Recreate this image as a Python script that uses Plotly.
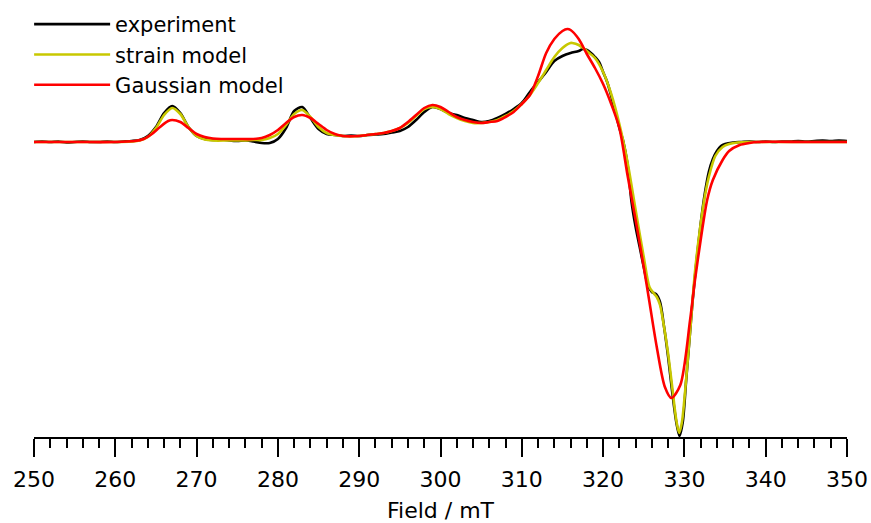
import plotly.graph_objects as go

# EPR spectrum: experiment vs. two simulation models (derivative intensity, arb. units)

exp_field = [250, 251, 252, 253, 254, 255, 256, 257, 258, 259, 260, 261, 262, 263, 264, 265, 266, 267,
             268, 269, 270, 271, 272, 273, 274, 275, 276, 277, 278, 279, 280, 281, 282, 283, 284, 285,
             286, 287, 288, 289, 290, 291, 292, 293, 294, 295, 296, 297, 298, 299, 300, 301, 302, 303,
             304, 305, 306, 307, 308, 309, 310, 311, 312, 313, 314, 315, 316, 317, 317.5, 318, 318.5,
             319, 319.5, 320, 320.5, 321, 321.5, 322, 322.5, 323, 323.5, 324, 324.5, 325, 325.5, 326,
             326.5, 327, 327.5, 328, 328.5, 329, 329.4, 329.8, 330.2, 330.6, 331, 331.5, 332, 332.5,
             333, 333.5, 334, 334.5, 335, 336, 337, 338, 339, 340, 341, 342, 343, 344, 345, 346, 347,
             348, 349, 350]
exp_signal = [0, 0.5, 0, 0.5, -0.5, 0, 0.5, 0, 0, 0.5, 0, 0.5, 1, 2, 6, 15, 29, 36,
              29, 15, 6, 3, 2, 2.5, 1.5, 1, 1.5, 0.5, -1, -1, 3, 14, 31, 35, 24, 13,
              8, 7, 6, 6.5, 6, 7, 7.5, 8, 9.5, 11, 15, 22, 30, 35, 33, 29, 27, 24,
              22, 20, 21, 24, 28, 33, 39, 50, 60, 70, 81, 86, 89, 91, 93, 92, 89,
              85, 80, 70, 60, 46, 30, 14, 0, -22, -60, -85, -105, -125, -143, -150,
              -152, -160, -185, -215, -250, -280, -294, -280, -240, -200, -160, -118, -82, -52,
              -30, -17, -9, -4, -2, -0.5, 0, 0.5, 0, 0.5, 0, 0.5, 0.5, 1, 0.5, 1, 1.5,
              1, 1.5, 1]

strain_field = [250, 255, 260, 262, 263, 264, 265, 266, 267, 268, 269, 270, 271, 272, 274, 276, 277,
                278, 279, 280, 281, 282, 283, 284, 285, 286, 287, 288, 290, 292, 293, 294, 295, 296,
                297, 298, 299, 300, 301, 302, 303, 304, 305, 306, 307, 308, 309, 310, 311, 312, 313,
                314, 315, 316, 316.2, 317, 318, 319, 320, 321, 322, 323, 324, 325, 325.7, 326.2,
                326.6, 327, 327.5, 328, 328.5, 329, 329.35, 329.7, 330.1, 330.7, 331.3, 331.9,
                332.5, 333, 333.8, 334.7, 335.5, 336.5, 338, 340, 345, 350]
strain_signal = [0, 0, 0, 0.5, 1.5, 5, 14, 27, 34, 28, 15, 6, 2.5, 1.5, 1.5, 1.5, 2,
                 2, 4, 8, 17, 28, 32, 25, 15, 9, 7, 6, 6, 8, 9, 11, 14, 19,
                 26, 33, 35, 33, 28, 24, 21, 19, 19, 20, 22, 26, 31, 38, 47, 59, 72,
                 85, 94, 99, 99, 97, 91, 84, 70, 48, 18, -20, -68, -115, -145, -151,
                 -155, -163, -185, -212, -245, -278, -291, -280, -248, -190, -130, -88,
                 -55, -35, -14, -5, -2, -0.5, 0, 0, 0, 0]

gauss_field = [250, 255, 260, 262.4, 263.5, 264.5, 265.5, 266.5, 267, 268, 269, 270, 271, 272, 273,
               275, 277, 278, 279, 280, 281, 282, 283, 284, 285, 286, 287, 288, 290, 292, 293, 294,
               295, 296, 297, 298, 299, 300, 301, 302, 303, 304, 305, 306, 307, 308, 309, 310, 311,
               312, 313, 314, 315, 315.6, 316, 317, 318, 319, 320, 321, 322, 323, 324, 325, 325.7,
               326.6, 327.6, 328.4, 329.5, 330.7, 331.3, 332, 332.8, 333.5, 334.7, 335.5, 336.8,
               338, 339, 345, 350]
gauss_signal = [0, 0, 0, 1, 3, 8, 15, 21, 22, 20, 14, 8, 5, 3.5, 3,
                3, 3, 4, 7, 12, 19, 25, 27, 24, 18, 12, 8, 6, 6, 8, 9, 11,
                14, 20, 27, 34, 37, 35, 30, 25, 22, 20, 19, 20, 21, 25, 30, 38, 47,
                66, 89, 103, 111, 113, 112, 103, 88, 74, 58, 38, 14, -33, -78, -125, -160,
                -205, -245, -256, -243, -178, -138, -98, -58, -38, -18, -9, -3,
                -1, 0, 0, 0]

series = [
    ("experiment", exp_field, exp_signal, "#000000"),
    ("strain model", strain_field, strain_signal, "#C8C800"),
    ("Gaussian model", gauss_field, gauss_signal, "#FF0000"),
]

FONT = "DejaVu Sans"

fig = go.Figure()
for name, xs, ys, color in series:
    fig.add_trace(go.Scatter(
        x=xs, y=ys, name=name, mode="lines",
        line=dict(color=color, width=2.6, shape="spline", smoothing=0.8),
    ))

fig.update_layout(
    width=871, height=523,
    margin=dict(l=34, r=24, t=10, b=86, autoexpand=False),
    paper_bgcolor="white", plot_bgcolor="white",
    font=dict(family=FONT, color="black", size=22),
    showlegend=True,
    legend=dict(
        x=-0.006, y=1.014, xanchor="left", yanchor="top",
        font=dict(family=FONT, size=21, color="black"),
        itemwidth=76, tracegroupgap=0,
        bgcolor="rgba(0,0,0,0)",
    ),
    xaxis=dict(
        range=[250, 350], tick0=250, dtick=10,
        automargin=False,
        showline=True, linecolor="black", linewidth=2,
        ticks="outside", ticklen=18, tickwidth=2, tickcolor="black",
        minor=dict(dtick=2, ticks="outside", ticklen=9, tickwidth=2, tickcolor="black"),
        showgrid=False, zeroline=False,
        tickfont=dict(family=FONT, size=22),
        ticklabelstandoff=4,
        title=dict(text="Field / mT", font=dict(family=FONT, size=22), standoff=14),
    ),
    yaxis=dict(range=[-295, 132], visible=False),
)

fig.write_html("out.html")
